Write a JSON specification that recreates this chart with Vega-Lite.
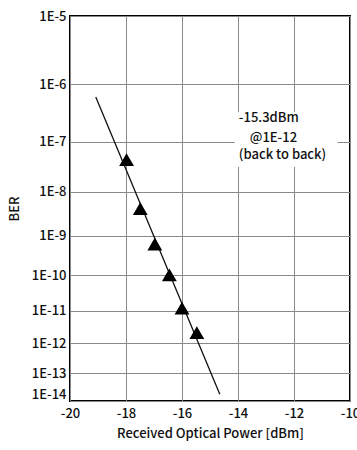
{
  "$schema": "https://vega.github.io/schema/vega-lite/v6.json",
  "width": 280,
  "height": 385,
  "autosize": {"type": "none"},
  "padding": {"left": 70, "top": 16, "right": 7, "bottom": 49},
  "background": "white",
  "config": {
    "font": "Noto Sans CJK JP, Liberation Sans, sans-serif",
    "view": {"stroke": "black", "strokeWidth": 2},
    "axis": {
      "domain": false,
      "ticks": false,
      "grid": true,
      "gridColor": "#8a8a8a",
      "gridWidth": 1,
      "gridOpacity": 1,
      "labelFontSize": 13,
      "labelFontWeight": 500,
      "labelColor": "#111",
      "titleFontSize": 13,
      "titleFontWeight": 500,
      "titleColor": "#111"
    }
  },
  "datasets": {
    "measured": [
      {"dBm": -17.98, "q": 7.34},
      {"dBm": -17.49, "q": 8.37},
      {"dBm": -16.97, "q": 9.2},
      {"dBm": -16.45, "q": 9.99},
      {"dBm": -16.0, "q": 10.92},
      {"dBm": -15.47, "q": 11.66}
    ],
    "fit": [
      {"dBm": -19.08, "q": 6.21},
      {"dBm": -14.65, "q": 13.75}
    ],
    "box": [
      {"x1": -14.12, "x2": -10.45, "q1": 6.47, "q2": 7.49}
    ],
    "notes": [
      {"dBm": -13.97, "q": 6.57, "text": "-15.3dBm"},
      {"dBm": -13.58, "q": 6.92, "text": "@1E-12"},
      {"dBm": -13.97, "q": 7.26, "text": "(back to back)"}
    ]
  },
  "layer": [
    {
      "data": {"name": "box"},
      "mark": {"type": "rect", "color": "white"},
      "encoding": {
        "x": {"field": "x1", "type": "quantitative", "scale": {"domain": [-20, -10], "nice": false, "zero": false},
              "axis": {"values": [-20,-19,-18,-17,-16,-15,-14,-13,-12,-11,-10], "labelExpr": "datum.value % 2 == 0 ? '' + datum.value : ''", "labelPadding": 6, "title": "Received Optical Power [dBm]", "titlePadding": 7, "labelFlush": false}},
        "x2": {"field": "x2"},
        "y": {"field": "q1", "type": "quantitative", "scale": {"type": "log", "domain": [5, 14], "reverse": true, "nice": false, "zero": false},
              "axis": {"values": [5,6,7,8,9,10,11,12,13,14], "labelExpr": "'1E-' + datum.value", "labelPadding": 4,
                       "labelBaseline": {"condition": {"test": "datum.value == 14", "value": "bottom"}, "value": "middle"},
                       "title": "BER", "titlePadding": 10}},
        "y2": {"field": "q2"}
      }
    },
    {
      "data": {"name": "fit"},
      "mark": {"type": "line", "color": "#111", "strokeWidth": 1.3},
      "encoding": {
        "x": {"field": "dBm", "type": "quantitative"},
        "y": {"field": "q", "type": "quantitative"}
      }
    },
    {
      "data": {"name": "measured"},
      "mark": {"type": "point", "shape": "triangle-up", "filled": true, "color": "black", "size": 220, "opacity": 1},
      "encoding": {
        "x": {"field": "dBm", "type": "quantitative"},
        "y": {"field": "q", "type": "quantitative"}
      }
    },
    {
      "data": {"name": "notes"},
      "mark": {"type": "text", "align": "left", "baseline": "middle", "fontSize": 13, "fontWeight": 500, "color": "#111"},
      "encoding": {
        "x": {"field": "dBm", "type": "quantitative"},
        "y": {"field": "q", "type": "quantitative"},
        "text": {"field": "text"}
      }
    }
  ]
}
